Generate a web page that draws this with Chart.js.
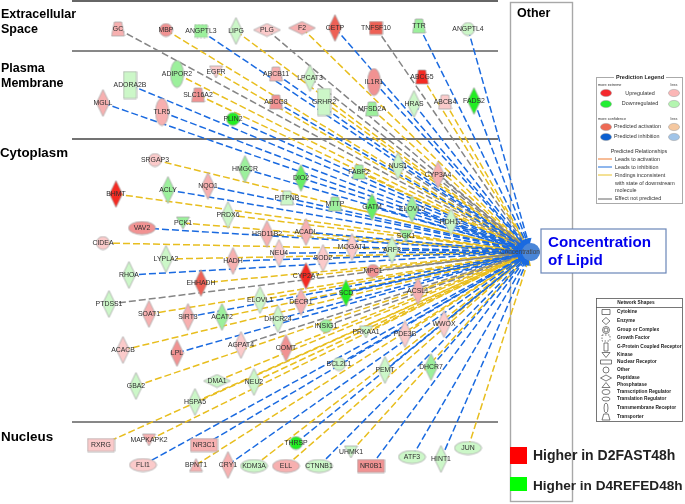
<!DOCTYPE html>
<html>
<head>
<meta charset="utf-8">
<title>Concentration of Lipid</title>
<script src="https://cdn.jsdelivr.net/npm/chart.js@4/dist/chart.umd.min.js"></script>
<style>
  html, body { margin: 0; padding: 0; background: #fff; }
  #wrap { width: 685px; height: 504px; }
</style>
</head>
<body>
<div id="wrap"><canvas id="net" width="685" height="504"></canvas></div>
<script>
// genes, one row per gene in every array
const geneNames = [
  'GC', 'MBP', 'ANGPTL3', 'LIPG', 'PLG', 'F2', 'CETP', 'TNFSF10', 'TTR', 'ANGPTL4',
  'ADORA2B', 'ADIPOR2', 'EGFR', 'SLC16A2', 'MGLL', 'TLR5', 'PLIN2', 'ABCB11', 'LPCAT3',
  'ABCG8', 'GRHR2', 'IL1R1', 'MFSD2A', 'ABCG5', 'HRAS', 'ABCB4', 'FADS2',
  'SRGAP3', 'HMGCR', 'BHMT', 'ACLY', 'NQO1', 'PRDX6', 'PCK1', 'VAV2', 'CIDEA', 'LYPLA2',
  'HADH', 'RHOA', 'EHHADH', 'DIO2', 'FABP2', 'NUS1', 'CYP3A4', 'PITPNB', 'MTTP', 'GATM',
  'ELOVL5', 'RDH12', 'HSD11B2', 'ACADL', 'NEU4', 'SOD2', 'MOGAT1', 'SGK1', 'ARF3', 'CYP2A7',
  'MPC1', 'ACSL1', 'SCD', 'DECR1', 'ELOVL1', 'PTDSS1', 'SOAT1', 'SIRT3', 'ACAT2', 'DHCR24',
  'INSIG1', 'PRKAA1', 'PDE3B', 'WWOX', 'ACACB', 'LPL', 'AGPAT4', 'COMT', 'BCL2L1', 'PEMT',
  'DHCR7', 'GBA2', 'DMA1', 'NEU2', 'HSPA5',
  'RXRG', 'MAPKAPK2', 'NR3C1', 'FLI1', 'BPNT1', 'CRY1', 'KDM3A', 'THRSP', 'ELL', 'CTNNB1',
  'UHMK1', 'NR0B1', 'ATF3', 'HINT1', 'JUN'
];
const geneX = [
  118, 166, 201, 236, 267, 302, 335, 376, 419, 468,
  130, 177, 216, 198, 103, 162, 233, 276, 310,
  276, 324, 374, 372, 422, 414, 445, 474,
  155, 245, 116, 168, 208, 228, 183, 142, 103, 166,
  233, 129, 201, 301, 359, 398, 438, 287, 335, 372,
  412, 451, 267, 306, 279, 323, 352, 406, 392, 306,
  373, 418, 346, 301, 260, 109, 149, 188, 222, 278,
  326, 366, 405, 444, 123, 177, 241, 286, 339, 385,
  431, 136, 217, 254, 195,
  101, 149, 204, 143, 196, 228, 254, 296, 286, 319,
  351, 371, 412, 441, 468
];
const geneY = [
  29, 30, 31, 31, 30, 28, 28, 28, 26, 29,
  85, 74, 72, 95, 103, 112, 119, 74, 78,
  102, 102, 82, 109, 77, 104, 102, 101,
  160, 169, 194, 190, 186, 215, 223, 228, 243, 259,
  261, 275, 283, 178, 172, 166, 175, 198, 204, 207,
  209, 222, 234, 232, 253, 258, 247, 236, 250, 276,
  271, 291, 293, 302, 300, 304, 314, 317, 317, 319,
  326, 332, 334, 324, 350, 353, 345, 348, 364, 370,
  367, 386, 381, 382, 402,
  445, 440, 445, 465, 465, 465, 466, 443, 466, 466,
  452, 466, 457, 459, 448
];
// node kind from the Network Shapes key
const geneKinds = [
  'transporter', 'other', 'growth', 'enzyme', 'peptidase', 'peptidase', 'enzyme', 'cytokine', 'transporter', 'other',
  'gpcr', 'transmembrane', 'kinase', 'transporter', 'enzyme', 'transmembrane', 'other', 'transporter', 'enzyme',
  'transporter', 'gpcr', 'transmembrane', 'transporter', 'transporter', 'enzyme', 'transporter', 'enzyme',
  'other', 'enzyme', 'enzyme', 'enzyme', 'enzyme', 'enzyme', 'kinase', 'transcription', 'other', 'enzyme',
  'enzyme', 'enzyme', 'enzyme', 'enzyme', 'transporter', 'enzyme', 'enzyme', 'transporter', 'transporter', 'enzyme',
  'enzyme', 'enzyme', 'enzyme', 'enzyme', 'enzyme', 'enzyme', 'enzyme', 'kinase', 'enzyme', 'enzyme',
  'other', 'enzyme', 'enzyme', 'enzyme', 'enzyme', 'enzyme', 'enzyme', 'enzyme', 'enzyme', 'enzyme',
  'other', 'kinase', 'enzyme', 'enzyme', 'enzyme', 'enzyme', 'enzyme', 'enzyme', 'other', 'enzyme',
  'enzyme', 'enzyme', 'peptidase', 'enzyme', 'enzyme',
  'nuclear', 'kinase', 'nuclear', 'transcription', 'phosphatase', 'enzyme', 'transcription', 'other', 'transcription', 'transcription',
  'kinase', 'nuclear', 'transcription', 'enzyme', 'transcription'
];
// how strong the change is: u = higher (red), d = lower (green)
const geneLevels = [
  'u1', 'u2', 'd1', 'd0', 'u0', 'u1', 'u3', 'u3', 'd1', 'd0',
  'd0', 'd1', 'u0', 'u2', 'u1', 'u1', 'd3', 'u1', 'd0',
  'u2', 'd0', 'u2', 'd1', 'u4', 'd0', 'u0', 'd3',
  'u0', 'd1', 'u4', 'd1', 'u1', 'd0', 'd1', 'u2', 'u0', 'd0',
  'u1', 'd0', 'u3', 'd2', 'd1', 'd0', 'u1', 'd0', 'd1', 'd2',
  'd1', 'd0', 'u1', 'u1', 'u0', 'u0', 'u0', 'd1', 'd0', 'u4',
  'u2', 'u1', 'd3', 'u1', 'd0', 'd0', 'u1', 'u1', 'd1', 'd0',
  'd1', 'd0', 'u0', 'u0', 'u0', 'u2', 'u0', 'u2', 'd0', 'd0',
  'd1', 'd0', 'd0', 'd0', 'd0',
  'u0', 'u1', 'u1', 'u0', 'u1', 'u1', 'd0', 'd3', 'u1', 'd0',
  'd0', 'u2', 'd0', 'd0', 'd0'
];
// predicted relationship to the lipid node
const geneEdges = [
  'none', 'incons', 'inhib', 'incons', 'none', 'incons', 'inhib', 'none', 'inhib', 'inhib',
  'inhib', 'incons', 'incons', 'incons', 'inhib', 'inhib', 'inhib', 'inhib', 'none',
  'inhib', 'incons', 'inhib', 'incons', 'incons', 'inhib', 'incons', 'inhib',
  'incons', 'inhib', 'incons', 'inhib', 'inhib', 'incons', 'incons', 'inhib', 'incons', 'incons',
  'inhib', 'inhib', 'incons', 'inhib', 'incons', 'none', 'none', 'inhib', 'incons', 'inhib',
  'inhib', 'incons', 'incons', 'inhib', 'inhib', 'incons', 'inhib', 'incons', 'inhib', 'incons',
  'none', 'incons', 'inhib', 'inhib', 'incons', 'none', 'incons', 'inhib', 'incons', 'inhib',
  'none', 'incons', 'incons', 'incons', 'incons', 'inhib', 'none', 'incons', 'inhib', 'inhib',
  'inhib', 'incons', 'incons', 'incons', 'incons',
  'incons', 'incons', 'inhib', 'inhib', 'incons', 'inhib', 'incons', 'inhib', 'incons', 'inhib',
  'incons', 'inhib', 'inhib', 'inhib', 'incons'
];
const hubName = 'Concentration';
const hubPos = [531, 252];
const dividerY = [1, 51, 139, 422];
const dividerEnds = [72, 498];
const regionLabels = [['Extracellular', 1, 15, 12.5], ['Space', 1, 30, 12.5], ['Plasma', 1, 69, 12.5], ['Membrane', 1, 84, 12.5], ['Cytoplasm', 0, 153, 13.3], ['Nucleus', 1, 437, 13.4]];
const shapeKeyLabels = ['Cytokine', 'Enzyme', 'Group or Complex', 'Growth Factor', 'G-Protein Coupled Receptor', 'Kinase', 'Nuclear Receptor', 'Other', 'Peptidase', 'Phosphatase', 'Transcription Regulator', 'Translation Regulator', 'Transmembrane Receptor', 'Transporter'];
const shapeKeyKinds = ['cytokine', 'enzyme', 'group', 'growth', 'gpcr', 'kinase', 'nuclear', 'other', 'peptidase', 'phosphatase', 'transcription', 'transcription', 'transmembrane', 'transporter'];
const shapeKeyRows = [312, 321, 330, 338, 347, 355, 362, 370, 378, 385, 392, 399, 408, 417];
const shapeKeySizes = [[8, 5], [8, 7], [7, 7], [8, 6], [4, 8], [8, 5], [11, 4], [6, 6], [11, 6], [8, 5], [8, 5], [8, 4], [4, 10], [8, 6]];

// styles
const levelColors = { u4: '#f42a22', u3: '#ee6055', u2: '#f19292', u1: '#f7b0b0', u0: '#fbcaca', d3: '#22ee22', d2: '#66ee66', d1: '#9cf09c', d0: '#ccf7c8' };
const edgeColors = { inhib: '#1a6ae0', incons: '#e8be1e', none: '#858585' };
const kindSizes = {
  enzyme: [13, 27], peptidase: [27, 13], other: [13, 13], transporter: [13, 14], kinase: [13, 12], phosphatase: [13, 13],
  gpcr: [13, 27], nuclear: [27, 13], transmembrane: [13, 27], transcription: [27, 13], growth: [13, 13], cytokine: [13, 13]
};

function traceShape(c, kind, x, y, w, h) {
  c.beginPath();
  if (kind === 'enzyme' || kind === 'peptidase') {
    c.moveTo(x, y - h / 2); c.lineTo(x + w / 2, y); c.lineTo(x, y + h / 2); c.lineTo(x - w / 2, y); c.closePath();
  } else if (kind === 'other' || kind === 'transmembrane' || kind === 'transcription' || kind === 'group') {
    c.ellipse(x, y, w / 2, h / 2, 0, 0, Math.PI * 2);
  } else if (kind === 'transporter') {
    c.moveTo(x - w * 0.28, y - h / 2); c.lineTo(x + w * 0.28, y - h / 2); c.lineTo(x + w / 2, y + h / 2); c.lineTo(x - w / 2, y + h / 2); c.closePath();
  } else if (kind === 'kinase') {
    c.moveTo(x - w / 2, y - h / 2); c.lineTo(x + w / 2, y - h / 2); c.lineTo(x, y + h / 2); c.closePath();
  } else if (kind === 'phosphatase') {
    c.moveTo(x, y - h / 2); c.lineTo(x + w / 2, y + h / 2); c.lineTo(x - w / 2, y + h / 2); c.closePath();
  } else {
    c.rect(x - w / 2, y - h / 2, w, h);
  }
}

// a small canvas per gene, handed to chart.js as its pointStyle
function makeIcon(kind, fill) {
  const [w, h] = kindSizes[kind];
  const cv = document.createElement('canvas');
  cv.width = w + 2;
  cv.height = h + 2;
  const c = cv.getContext('2d');
  traceShape(c, kind, cv.width / 2, cv.height / 2, w, h);
  c.fillStyle = fill;
  c.fill();
  c.strokeStyle = '#a9a9a9';
  c.lineWidth = 0.8;
  if (kind === 'growth') c.setLineDash([2, 1.5]);
  c.stroke();
  return cv;
}

const genePoints = geneNames.map((n, i) => ({ x: geneX[i], y: geneY[i] }));
const geneIcons = geneNames.map((n, i) => makeIcon(geneKinds[i], levelColors[geneLevels[i]]));

// one line per gene, stopped just short of the hub so the arrow head shows
function edgeDataset(i) {
  const dx = hubPos[0] - geneX[i], dy = hubPos[1] - geneY[i];
  const len = Math.sqrt(dx * dx + dy * dy);
  const end = { x: hubPos[0] - dx / len * 11, y: hubPos[1] - dy / len * 11 };
  const col = edgeColors[geneEdges[i]];
  return {
    data: [genePoints[i], end],
    showLine: true,
    borderColor: col,
    borderWidth: 1.5,
    borderDash: [7, 3],
    pointRadius: [0, 5],
    pointStyle: 'triangle',
    pointRotation: Math.atan2(dy, dx) * 180 / Math.PI + 90,
    pointBackgroundColor: col,
    pointBorderWidth: 0,
    clip: false
  };
}

// first dataset is painted last: nodes on top, then blue, then yellow and grey
const datasets = [];
datasets.push({ data: genePoints, pointStyle: geneIcons, pointRadius: 8, showLine: false, clip: false });
datasets.push({ data: [{ x: hubPos[0], y: hubPos[1] }], pointStyle: 'circle', pointRadius: 9, pointBackgroundColor: '#4a86d8', pointBorderWidth: 0, showLine: false });
['inhib', 'none', 'incons'].forEach(kind => {
  geneNames.forEach((n, i) => { if (geneEdges[i] === kind) datasets.push(edgeDataset(i)); });
});
dividerY.forEach((y, i) => {
  datasets.push({
    data: [{ x: dividerEnds[0], y: y }, { x: dividerEnds[1], y: y }],
    showLine: true, pointRadius: 0, clip: false,
    borderColor: i === 0 ? '#666' : (i === 2 ? '#444' : '#111'),
    borderWidth: i === 0 ? 2 : (i === 2 ? 1.4 : 1)
  });
});

function text(c, str, x, y, font, color, align) {
  c.font = font;
  c.fillStyle = color || '#333';
  c.textAlign = align || 'left';
  c.textBaseline = 'middle';
  c.fillText(str, x, y);
}

function pill(c, x, y, color) {
  c.beginPath();
  c.ellipse(x, y, 5.5, 3.6, 0, 0, Math.PI * 2);
  c.fillStyle = color;
  c.fill();
  c.strokeStyle = '#999';
  c.lineWidth = 0.5;
  c.stroke();
}

function drawPredictionLegend(c) {
  const sans = 'Liberation Sans';
  c.strokeStyle = '#aaa';
  c.lineWidth = 1;
  c.strokeRect(596.5, 77.5, 86, 126);
  c.fillStyle = '#fff';
  c.fillRect(614, 74, 52, 7);
  text(c, 'Prediction Legend', 640, 77, 'bold 5.5px ' + sans, '#222', 'center');
  text(c, 'more extreme', 598, 85, '3.8px ' + sans, '#333');
  text(c, 'less', 674, 85, '3.8px ' + sans, '#333', 'center');
  pill(c, 606, 93, '#f4282c'); pill(c, 674, 93, '#fbb6b6');
  text(c, 'Upregulated', 640, 94, '5.4px ' + sans, '#333', 'center');
  pill(c, 606, 104, '#22ee33'); pill(c, 674, 104, '#b4f5b0');
  text(c, 'Downregulated', 640, 104, '5.4px ' + sans, '#333', 'center');
  text(c, 'more confidence', 598, 119, '3.8px ' + sans, '#333');
  text(c, 'less', 674, 119, '3.8px ' + sans, '#333', 'center');
  pill(c, 606, 127, '#ee6a55'); pill(c, 674, 127, '#f5c8a0');
  text(c, 'Predicted activation', 614, 127, '5.4px ' + sans, '#333');
  pill(c, 606, 137, '#0b5fd0'); pill(c, 674, 137, '#a0c4e8');
  text(c, 'Predicted inhibition', 614, 137, '5.4px ' + sans, '#333');
  text(c, 'Predicted Relationships', 639, 152, '5.4px ' + sans, '#333', 'center');
  [[159, '#ee7b30'], [167, '#1f6fdc'], [175, '#e8c22a'], [199, '#666']].forEach(r => {
    c.beginPath();
    c.moveTo(598, r[0]); c.lineTo(612, r[0]);
    c.strokeStyle = r[1];
    c.lineWidth = 1;
    c.stroke();
  });
  text(c, 'Leads to activation', 615, 160, '5.4px ' + sans, '#333');
  text(c, 'Leads to inhibition', 615, 168, '5.4px ' + sans, '#333');
  text(c, 'Findings inconsistent', 615, 176, '5.4px ' + sans, '#333');
  text(c, 'with state of downstream', 615, 184, '5.4px ' + sans, '#333');
  text(c, 'molecule', 615, 191, '5.4px ' + sans, '#333');
  text(c, 'Effect not predicted', 615, 199, '5.4px ' + sans, '#333');
}

function drawShapeKey(c) {
  c.strokeStyle = '#555';
  c.lineWidth = 0.8;
  c.strokeRect(596.5, 298.5, 86, 123);
  c.beginPath();
  c.moveTo(596, 307.5); c.lineTo(682, 307.5);
  c.stroke();
  text(c, 'Network Shapes', 636, 303, 'bold 4.8px Liberation Sans', '#222', 'center');
  shapeKeyLabels.forEach((label, i) => {
    const kind = shapeKeyKinds[i];
    const y = shapeKeyRows[i];
    const [w, h] = shapeKeySizes[i];
    c.setLineDash(kind === 'growth' ? [1.5, 1.5] : []);
    traceShape(c, kind, 606, y, w, h);
    c.strokeStyle = '#444';
    c.lineWidth = 0.7;
    c.stroke();
    if (kind === 'group') {
      traceShape(c, kind, 606, y, 4, 4);
      c.stroke();
    }
    c.setLineDash([]);
    text(c, label, 617, y, 'bold 4.8px Liberation Sans', '#222');
  });
}

// frames and text that chart.js has no element for
const frames = {
  id: 'frames',
  beforeDatasetsDraw(chart) {
    const c = chart.ctx;
    c.save();
    c.strokeStyle = '#a8a8a8';
    c.lineWidth = 1.4;
    c.strokeRect(510.5, 2.5, 62, 499);
    c.restore();
  },
  afterDatasetsDraw(chart) {
    const c = chart.ctx;
    const xs = chart.scales.x, ys = chart.scales.y;
    c.save();
    geneNames.forEach((n, i) => {
      text(c, n, xs.getPixelForValue(geneX[i]), ys.getPixelForValue(geneY[i]), '6.9px Liberation Sans', '#2e2e2e', 'center');
    });
    text(c, hubName, xs.getPixelForValue(hubPos[0]) - 11, ys.getPixelForValue(hubPos[1]), '6.4px Liberation Sans', '#444', 'center');

    regionLabels.forEach(r => text(c, r[0], r[1], r[2], 'bold ' + r[3] + 'px Liberation Sans', '#000'));
    text(c, 'Other', 517, 14, 'bold 12.5px Liberation Sans', '#000');

    c.fillStyle = '#fff';
    c.fillRect(541, 229, 125, 44);
    c.strokeStyle = '#6a86b8';
    c.lineWidth = 1.2;
    c.strokeRect(541, 229, 125, 44);
    text(c, 'Concentration', 548, 243, 'bold 15.2px Liberation Sans', '#0000ee');
    text(c, 'of Lipid', 548, 261, 'bold 15.2px Liberation Sans', '#0000ee');

    drawPredictionLegend(c);
    drawShapeKey(c);

    c.fillStyle = '#ff0000';
    c.fillRect(510, 447, 17, 17);
    c.fillStyle = '#00ff00';
    c.fillRect(510, 477, 17, 14);
    text(c, 'Higher in D2FAST48h', 533, 456, 'bold 14px Liberation Sans', '#222');
    text(c, 'Higher in D4REFED48h', 533, 486, 'bold 13.6px Liberation Sans', '#222');
    c.restore();
  }
};

new Chart(document.getElementById('net').getContext('2d'), {
  type: 'scatter',
  data: { datasets: datasets },
  options: {
    responsive: false,
    animation: false,
    layout: { padding: 0, autoPadding: false },
    plugins: { legend: { display: false }, tooltip: { enabled: false } },
    scales: {
      x: { type: 'linear', min: 0, max: 685, display: false },
      y: { type: 'linear', min: 0, max: 504, reverse: true, display: false }
    }
  },
  plugins: [frames]
});
</script>
</body>
</html>
